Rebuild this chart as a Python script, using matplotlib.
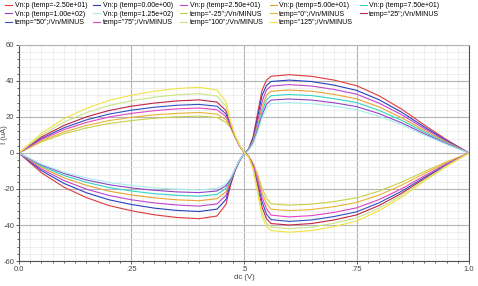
import matplotlib
matplotlib.use("Agg")
import matplotlib.pyplot as plt
from matplotlib.ticker import MultipleLocator

plt.rcParams['font.family'] = ['Liberation Sans', 'DejaVu Sans']

# sweep points (dc, V)
x = [0, .05, .1, .15, .2, .25, .3, .35, .4, .44, .46, .47, .48, .49, .5,
     .51, .52, .53, .54, .55, .56, .6, .65, .7, .75, .8, .85, .9, .95, 1.0]

# Vn:p currents (uA), one per temp
vnp_labels = ["Vn:p (temp=-2.50e+01)", "Vn:p (temp=0.00e+00)", "Vn:p (temp=2.50e+01)",
              "Vn:p (temp=5.00e+01)", "Vn:p (temp=7.50e+01)", "Vn:p (temp=1.00e+02)",
              "Vn:p (temp=1.25e+02)"]
vnp_colors = ["#e03a3a", "#2b3fc0", "#c044cc", "#e8a232", "#34d4c2", "#8f44c8", "#a6ecec"]
vnp_m25 = [0, -11, -19, -24.8, -29.2, -32.1, -34.3, -35.8, -36.5, -35, -28.5, -18, -10, -4.5, -0.5,
           2.2, 8.7, 21.8, 34.8, 40.5, 42.6, 43.5, 42.6, 40.5, 37.4, 31.8, 24.4, 15.7, 7.4, 0]
vnp_0 = [0, -9.8, -16.9, -22.1, -26, -28.6, -30.6, -31.9, -32.5, -31.2, -25.8, -17, -9.8, -4.3, -0.5,
         2, 8.1, 19.5, 32, 37.5, 39.7, 40.5, 39.7, 37.7, 34.8, 29.6, 22.7, 14.6, 6.9, 0]
vnp_25 = [0, -8.9, -15.3, -20.1, -23.6, -26, -27.7, -28.9, -29.5, -28.3, -23.5, -16, -9.6, -4.2, -0.5,
          1.9, 7.2, 17, 28.5, 35, 37.2, 38, 37.2, 35.3, 32.7, 27.7, 21.3, 13.7, 6.5, 0]
vnp_50 = [0, -8, -13.8, -18, -21.2, -23.3, -24.9, -26, -26.5, -25.4, -21.5, -15.5, -9.4, -4.1, -0.5,
          1.8, 6.5, 15, 25.5, 32, 34.3, 35, 34.3, 32.6, 30.1, 25.6, 19.6, 12.6, 6, 0]
vnp_75 = [0, -7.2, -12.5, -16.3, -19.2, -21.1, -22.6, -23.5, -24, -23, -19.6, -15, -9.2, -4, -0.5,
          1.7, 6, 13.5, 23, 29.5, 31.8, 32.5, 31.9, 30.2, 28, 23.7, 18.2, 11.7, 5.5, 0]
vnp_100 = [0, -6.6, -11.4, -15, -17.6, -19.4, -20.7, -21.6, -22, -21.1, -18.2, -14.5, -9, -3.9, -0.5,
           1.6, 5.5, 12.5, 21, 27, 29.4, 30, 29.4, 27.9, 25.8, 21.9, 16.8, 10.8, 5.1, 0]
vnp_125 = [0, -6.2, -10.7, -13.9, -16.4, -18, -19.3, -20.1, -20.5, -19.7, -17, -14, -8.8, -3.8, -0.5,
           1.5, 5, 11.5, 19.5, 25, 27.4, 28, 27.4, 26, 24.1, 20.4, 15.7, 10.1, 4.8, 0]

# /Vn/MINUS currents (uA)
mn_labels = ['temp="-25";/Vn/MINUS', 'temp="0";/Vn/MINUS', 'temp="25";/Vn/MINUS',
             'temp="50";/Vn/MINUS', 'temp="75";/Vn/MINUS', 'temp="100";/Vn/MINUS',
             'temp="125";/Vn/MINUS']
mn_colors = ["#c8d044", "#e8b434", "#c42244", "#3450c4", "#e244c4", "#c8e488", "#f2e244"]
mn_m25 = [0, 6.2, 10.7, 13.9, 16.4, 18, 19.3, 20.1, 20.5, 19.7, 17, 14, 8.8, 3.8, 0.5,
          -1.6, -5.5, -11.5, -19.5, -25, -28.2, -29, -28.4, -27, -24.9, -21.2, -16.2, -10.4, -4.9, 0]
mn_0 = [0, 6.8, 11.7, 15.3, 18, 19.8, 21.2, 22, 22.5, 21.6, 18.5, 14.5, 9, 3.9, 0.5,
        -1.7, -6, -13, -22, -28, -31.2, -32, -31.4, -29.8, -27.5, -23.4, -17.9, -11.5, -5.4, 0]
mn_25 = [0, 8.9, 15.3, 20.1, 23.6, 26, 27.7, 28.9, 29.5, 28.3, 23.5, 16, 9.6, 4.2, 0.5,
         -2, -7.5, -18, -30, -36.5, -39.2, -40, -39.2, -37.2, -34.4, -29.2, -22.4, -14.4, -6.8, 0]
mn_50 = [0, 8.1, 14, 18.4, 21.6, 23.8, 25.4, 26.5, 27, 26, 21.7, 15.5, 9.4, 4.1, 0.5,
         -1.9, -7, -16, -27, -34, -37, -38, -37.2, -35.3, -32.7, -27.7, -21.3, -13.7, -6.5, 0]
mn_75 = [0, 7.5, 13, 17, 20, 22, 23.5, 24.5, 25, 24, 20.3, 15, 9.2, 4, 0.5,
         -1.8, -6.5, -14.5, -24.5, -31, -34.5, -35.5, -34.8, -33, -30.5, -25.9, -19.9, -12.8, -6, 0]
mn_100 = [0, 9.9, 17.2, 22.4, 26.4, 29, 31, 32.3, 33, 31.6, 26, 17, 9.8, 4.3, 0.5,
          -2.1, -8.4, -20, -33, -39, -41.2, -42, -41.2, -39, -36.1, -30.7, -23.5, -15.1, -7.1, 0]
mn_125 = [0, 11, 19, 24.8, 29.2, 32.1, 34.3, 35.8, 36.5, 35, 28.5, 18, 10, 4.5, 0.5,
          -2.2, -8.8, -22, -35.2, -40.9, -43.1, -44, -43.1, -40.9, -37.8, -32.1, -24.6, -15.8, -7.5, 0]

vnp = [vnp_m25, vnp_0, vnp_25, vnp_50, vnp_75, vnp_100, vnp_125]
mn = [mn_m25, mn_0, mn_25, mn_50, mn_75, mn_100, mn_125]

fig = plt.figure(figsize=(4.78, 2.86), dpi=100)
ax = fig.add_axes([0.0397, 0.0874, 0.9415, 0.7553])

handles = []
for ys, c, lab in zip(vnp, vnp_colors, vnp_labels):
    h, = ax.plot(x, ys, color=c, lw=0.8, label=lab)
    handles.append(h)
for ys, c, lab in zip(mn, mn_colors, mn_labels):
    h, = ax.plot(x, ys, color=c, lw=0.8, label=lab)
    handles.append(h)

ax.set_xlim(0, 1.0)
ax.set_ylim(-60, 60)
ax.xaxis.set_minor_locator(MultipleLocator(0.025))
ax.yaxis.set_minor_locator(MultipleLocator(4))
ax.set_xticks([0, .25, .5, .75, 1.0])
ax.set_xticklabels(["0.0", ".25", ".5", ".75", "1.0"])
ax.set_yticks([-60, -40, -20, 0, 20, 40, 60])
ax.set_yticklabels(["-60", "-40", "-20", "0", "20", "40", "60"])
ax.grid(which='major', color='#b4b4b4', lw=0.8)
ax.grid(which='minor', color='#e8e8e8', lw=0.5)
ax.set_axisbelow(True)
ax.tick_params(which='both', labelsize=5.5, colors='#444444', length=2, width=0.6, pad=1.5)
ax.tick_params(which='minor', length=1.2)
for s in ['left', 'bottom', 'right']:
    ax.spines[s].set_color('#555555')
    ax.spines[s].set_linewidth(0.8)
ax.spines['top'].set_color('#b4b4b4')
ax.spines['top'].set_linewidth(0.8)

ax.set_xlabel("dc (V)", fontsize=5.5, color='#444444', labelpad=1)
fig.text(0.009, 0.53, "I (uA)", rotation=90, ha='center', va='center', fontsize=5.5, color='#444444')

# legend: 5 columns, entries read row by row (matplotlib fills by column)
ncol = 5
order = [i for c in range(ncol) for i in range(c, len(handles), ncol)]
fig.legend(handles=[handles[i] for i in order], loc='upper left', bbox_to_anchor=(0.0, 1.01),
           ncol=ncol, frameon=False, fontsize=5, handlelength=1.0, handletextpad=0.4,
           columnspacing=0.9, labelspacing=0.25, borderaxespad=0.3)

fig.savefig("out.png", dpi=100)
